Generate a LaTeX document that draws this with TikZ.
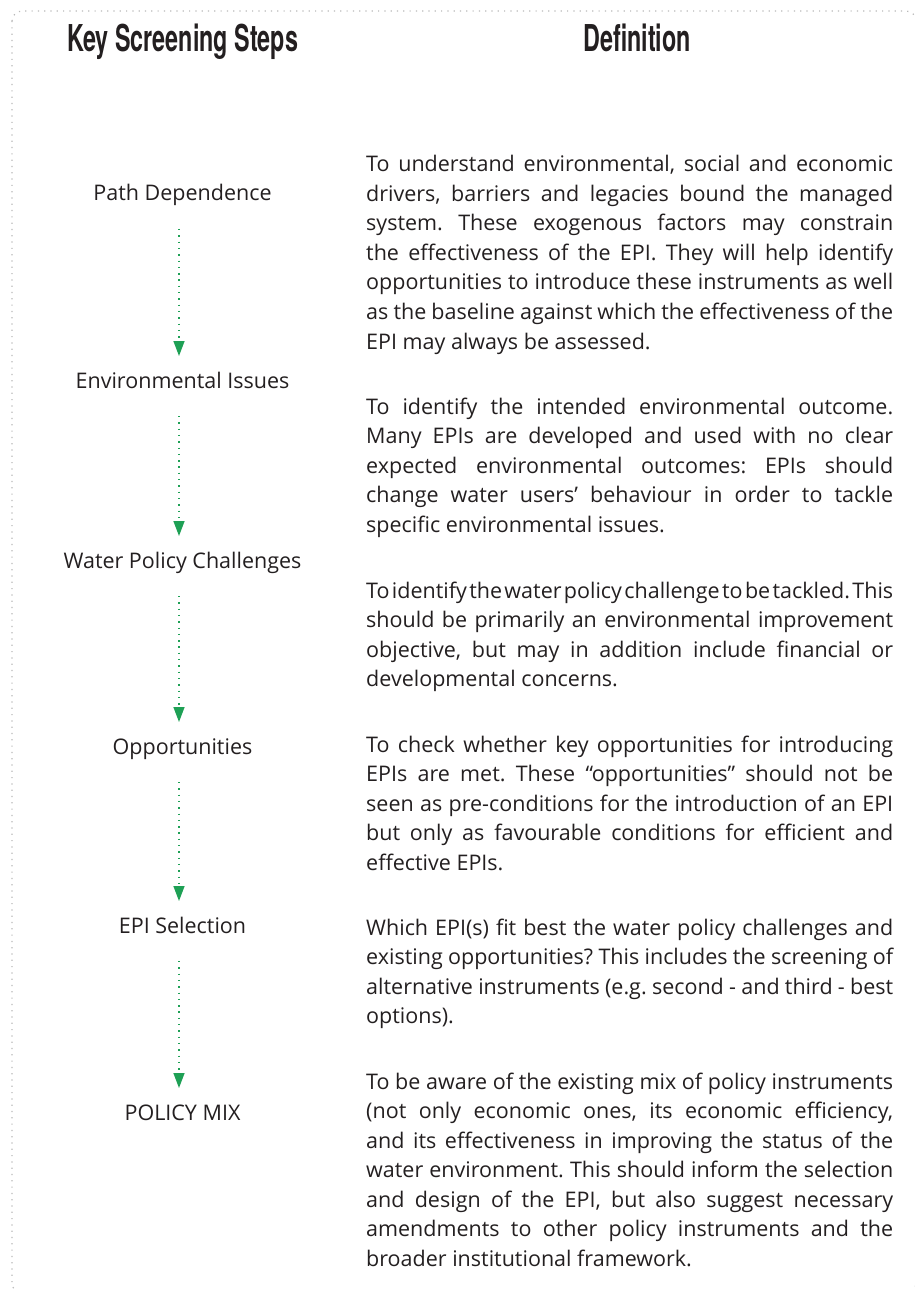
\documentclass[tikz,border=0pt]{standalone}
\usepackage{fontspec}
\setmainfont{Open Sans}
\newfontfamily\headfont[FakeStretch=0.63]{TeX Gyre Heros}
\usetikzlibrary{arrows.meta, positioning, calc}
\definecolor{ink}{RGB}{35,31,32}
\definecolor{leaf_green}{RGB}{30,160,85}
\definecolor{dot_grey}{RGB}{185,185,185}
\hyphenpenalty=10000
\frenchspacing

\begin{document}
\begin{tikzpicture}[
    x=1pt, y=-1pt,
    heading/.style={
        font=\headfont\bfseries\fontsize{37}{40}\selectfont,
        text=ink,
        inner sep=0pt,
        anchor=base
    },
    stage/.style={
        font=\fontsize{21.5}{29.5}\selectfont,
        text=ink,
        inner sep=0pt,
        anchor=base
    },
    definition/.style={
        font=\fontsize{21.5}{29.5}\selectfont,
        execute at begin node={\spaceskip=5.6pt plus 13pt minus 4.3pt\relax},
        text=ink,
        inner sep=0pt,
        text width=527pt,
        align=justify,
        anchor=base west
    },
    flow/.style={
        -{Triangle[width=11pt,length=15pt]},
        leaf_green,
        line width=1.4pt,
        dash pattern=on 1.4pt off 4.9pt,
        shorten <=28pt,
        shorten >=32pt
    },
    frame/.style={
        dot_grey,
        line width=1.2pt,
        dash pattern=on 1.2pt off 5.1pt,
        rounded corners=10pt
    }
]
\useasboundingbox (0,0) rectangle (914,1289);

% Dotted frame round the table
\draw[frame] (12,11) rectangle (916,1293);

% Column headings
\node[heading] (keysteps) at (182.5,52) {Key Screening Steps};
\node[heading] (defhead) at (637,52) {Definition};

% Left column - screening steps
\node[stage] (pathdep) at (182.5,201) {Path Dependence};
\node[stage] (envissue) at (182.5,388) {Environmental Issues};
\node[stage] (policych) at (182.5,568) {Water Policy Challenges};
\node[stage] (opport) at (182.5,754) {Opportunities};
\node[stage] (episel) at (182.5,933) {EPI Selection};
\node[stage] (polmix) at (182.5,1120) {POLICY MIX};

% Right column - definitions
\node[definition] (defpath) at (366,172) {To understand environmental, social and economic\linebreak drivers, barriers and legacies bound the managed\linebreak system. These exogenous factors may constrain\linebreak the effectiveness of the EPI. They will help identify\linebreak opportunities to introduce these instruments as well\linebreak as the baseline against which the effectiveness of the\linebreak EPI may always be assessed.};
\node[definition] (defenv) at (366,414) {To identify the intended environmental outcome.\linebreak Many EPIs are developed and used with no clear\linebreak expected environmental outcomes: EPIs should\linebreak change water users’ behaviour in order to tackle\linebreak specific environmental issues.};
\node[definition] (defpolicy) at (366,598) {To identify the water policy challenge to be tackled. This\linebreak should be primarily an environmental improvement\linebreak objective, but may in addition include financial or\linebreak developmental concerns.};
\node[definition] (defopport) at (366,752) {To check whether key opportunities for introducing\linebreak EPIs are met. These “opportunities” should not be\linebreak seen as pre-conditions for the introduction of an EPI\linebreak but only as favourable conditions for efficient and\linebreak effective EPIs.};
\node[definition] (defepi) at (366,935) {Which EPI(s) fit best the water policy challenges and\linebreak existing opportunities? This includes the screening of\linebreak alternative instruments (e.g. second - and third - best\linebreak options).};
\node[definition] (defmix) at (366,1089) {To be aware of the existing mix of policy instruments\linebreak (not only economic ones, its economic efficiency,\linebreak and its effectiveness in improving the status of the\linebreak water environment. This should inform the selection\linebreak and design of the EPI, but also suggest necessary\linebreak amendments to other policy instruments and the\linebreak broader institutional framework.};

% Dotted arrows between the steps
\coordinate (ax) at (179,0);
\foreach \from/\to in {pathdep/envissue, envissue/policych, policych/opport, opport/episel, episel/polmix}
    \draw[flow] (\from.base -| ax) -- (\to.base -| ax);

\end{tikzpicture}
\end{document}
